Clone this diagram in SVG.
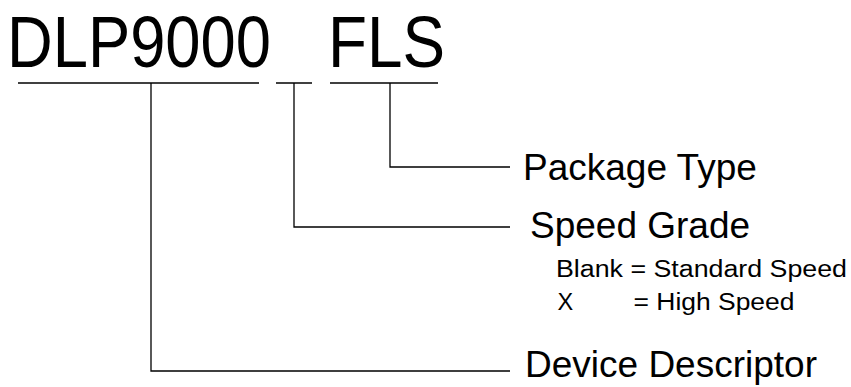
<svg xmlns="http://www.w3.org/2000/svg" width="851" height="387" viewBox="0 0 851 387">
<style>
text{font-family:"Liberation Sans",Arial,sans-serif;fill:#000}
.big{font-size:73px}
.lbl{font-size:37px}
.sub{font-size:23.5px}
.ln{stroke:#000;stroke-width:1.3;fill:none}
</style>
<rect width="851" height="387" fill="#fff"/>
<g id="part-number">
<text class="big" x="7" y="67" textLength="264" lengthAdjust="spacingAndGlyphs">DLP9000</text>
<text class="big" x="328" y="67" textLength="117" lengthAdjust="spacingAndGlyphs">FLS</text>
</g>
<g id="package-type"><text class="lbl" x="523" y="180">Package Type</text></g>
<g id="speed-grade">
<text class="lbl" x="530" y="238">Speed Grade</text>
<text class="sub" x="556" y="277" textLength="291" lengthAdjust="spacingAndGlyphs">Blank = Standard Speed</text>
<text class="sub" x="557.5" y="310">X</text>
<text class="sub" x="633.5" y="310" textLength="161" lengthAdjust="spacingAndGlyphs">= High Speed</text>
</g>
<g id="device-descriptor"><text class="lbl" x="525" y="377">Device Descriptor</text></g>
<g id="connectors">
<line class="ln" x1="18" y1="83" x2="259" y2="83"/>
<line class="ln" x1="276" y1="83" x2="312" y2="83"/>
<line class="ln" x1="330" y1="83" x2="438" y2="83"/>
<polyline class="ln" points="390,83 390,167 510,167"/>
<polyline class="ln" points="294,83 294,227 510,227"/>
<polyline class="ln" points="151,83 151,371 510,371"/>
</g>
</svg>
